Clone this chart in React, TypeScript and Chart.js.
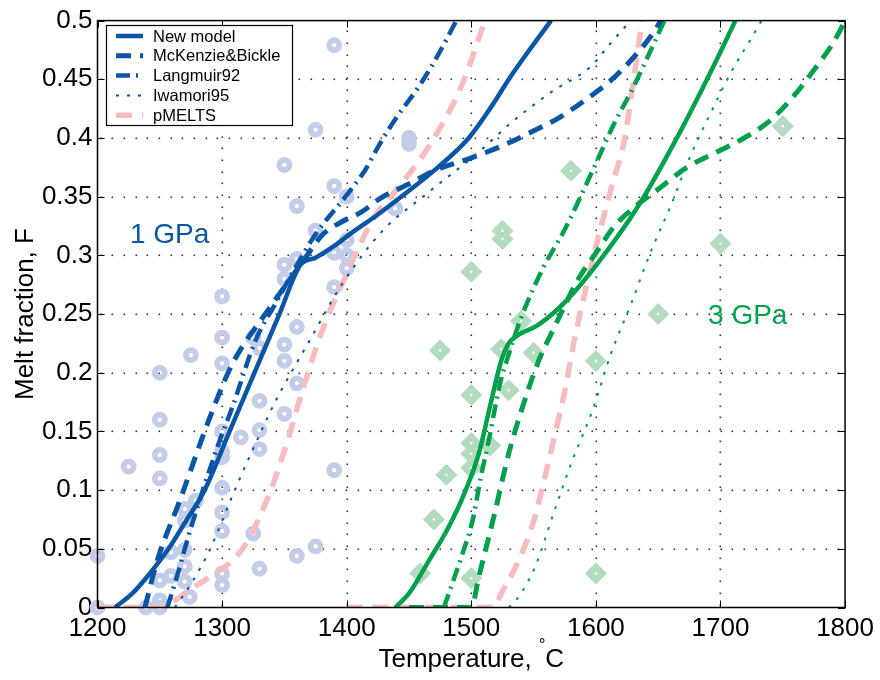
import React, { useEffect, useRef } from 'react';
import { Chart, registerables } from 'chart.js';

Chart.register(...registerables);

// ---------- axes ----------
const xTicks = [1200, 1300, 1400, 1500, 1600, 1700, 1800];
const yTicks = [0, 0.05, 0.1, 0.15, 0.2, 0.25, 0.3, 0.35, 0.4, 0.45, 0.5];
const yTickLabels = ['0', '0.05', '0.1', '0.15', '0.2', '0.25', '0.3', '0.35', '0.4', '0.45', '0.5'];

// ---------- 1 GPa curves ----------
const newModel1T = [1214, 1228, 1242, 1257, 1270, 1286, 1306, 1326, 1346, 1363, 1375, 1390, 1405, 1424, 1445, 1471, 1498, 1515, 1532, 1548, 1564];
const newModel1F = [0, 0.012, 0.029, 0.05, 0.072, 0.1, 0.15, 0.2, 0.25, 0.292, 0.298, 0.308, 0.32, 0.334, 0.351, 0.373, 0.4, 0.425, 0.453, 0.477, 0.5];

const mckenzie1T = [1238, 1248, 1266, 1292, 1308, 1338, 1354, 1365, 1380, 1395, 1412, 1426, 1452, 1470, 1500, 1524, 1548, 1570, 1591, 1612, 1628, 1647, 1652];
const mckenzie1F = [0, 0.04, 0.091, 0.167, 0.207, 0.255, 0.279, 0.295, 0.317, 0.328, 0.337, 0.348, 0.362, 0.372, 0.383, 0.393, 0.405, 0.417, 0.432, 0.449, 0.466, 0.491, 0.5];

const langmuir1T = [1256, 1262, 1275, 1298, 1308, 1327, 1344, 1358, 1375, 1399, 1415, 1426, 1439, 1458, 1474, 1488];
const langmuir1F = [0, 0.02, 0.068, 0.142, 0.17, 0.228, 0.261, 0.288, 0.318, 0.35, 0.373, 0.394, 0.416, 0.444, 0.472, 0.5];

const iwamori1T = [1262, 1275, 1290, 1311, 1330, 1343, 1370, 1396, 1428, 1466, 1506, 1532, 1564, 1596, 1612, 1628];
const iwamori1F = [0, 0.02, 0.049, 0.102, 0.147, 0.176, 0.227, 0.275, 0.32, 0.354, 0.388, 0.413, 0.439, 0.461, 0.481, 0.5];

const pmelts1T = [1200, 1252, 1262, 1274, 1290, 1306, 1319, 1338, 1354, 1362, 1380, 1396, 1423, 1434, 1466, 1492, 1511];
const pmelts1F = [0, 0, 0.006, 0.015, 0.026, 0.038, 0.054, 0.097, 0.147, 0.176, 0.235, 0.275, 0.334, 0.348, 0.393, 0.444, 0.5];

// ---------- 3 GPa curves ----------
const newModel3T = [1439, 1450, 1466, 1480, 1492, 1506, 1516, 1524, 1530, 1536, 1554, 1576, 1602, 1634, 1666, 1692, 1712];
const newModel3F = [0, 0.012, 0.04, 0.065, 0.091, 0.131, 0.176, 0.21, 0.225, 0.231, 0.241, 0.261, 0.294, 0.342, 0.402, 0.456, 0.5];

const mckenzie3T = [1450, 1500, 1506, 1518, 1530, 1540, 1554, 1565, 1574, 1586, 1600, 1615, 1632, 1652, 1673, 1697, 1719, 1740, 1759, 1775, 1791, 1800];
const mckenzie3F = [0, 0, 0.026, 0.077, 0.131, 0.167, 0.21, 0.235, 0.255, 0.28, 0.302, 0.325, 0.342, 0.358, 0.375, 0.388, 0.4, 0.415, 0.436, 0.458, 0.482, 0.5];

const langmuir3T = [1478, 1482, 1492, 1501, 1508, 1514, 1519, 1524, 1529, 1536, 1543, 1558, 1575, 1599, 1615, 1628, 1642, 1655];
const langmuir3F = [0, 0.012, 0.043, 0.074, 0.113, 0.142, 0.17, 0.195, 0.212, 0.235, 0.255, 0.29, 0.322, 0.376, 0.413, 0.439, 0.47, 0.5];

const iwamori3T = [1530, 1535, 1551, 1565, 1581, 1597, 1612, 1628, 1644, 1660, 1676, 1692, 1708, 1727, 1733];
const iwamori3F = [0, 0.005, 0.034, 0.077, 0.125, 0.167, 0.216, 0.258, 0.303, 0.342, 0.385, 0.421, 0.455, 0.489, 0.5];

const pmelts3T = [1400, 1518, 1524, 1538, 1551, 1559, 1567, 1575, 1582, 1587, 1599, 1612, 1623, 1631, 1636, 1637];
const pmelts3F = [0, 0, 0.012, 0.04, 0.077, 0.111, 0.147, 0.184, 0.224, 0.249, 0.303, 0.356, 0.399, 0.455, 0.492, 0.5];

// ---------- experiments ----------
const exp1T = [1200, 1200, 1225, 1239, 1250, 1250, 1250, 1250, 1250, 1250, 1250, 1259, 1259, 1270, 1270, 1270, 1274, 1270, 1270, 1279, 1275,
  1300, 1300, 1300, 1300, 1300, 1300, 1300, 1300, 1300, 1300, 1300, 1315, 1325, 1330, 1330, 1330, 1330, 1325, 1330,
  1350, 1350, 1350, 1350, 1350, 1350, 1360, 1360, 1360, 1360, 1360, 1375, 1375, 1375, 1390, 1390, 1390, 1390, 1390,
  1400, 1400, 1400, 1400, 1439, 1450, 1450];
const exp1F = [0.044, 0, 0.12, 0, 0.2, 0.16, 0.13, 0.11, 0.023, 0.006, 0, 0.027, 0.047, 0.049, 0.035, 0.022, 0.009, 0.084, 0.074, 0.091, 0.215,
  0.265, 0.23, 0.208, 0.15, 0.133, 0.128, 0.102, 0.081, 0.065, 0.029, 0.019, 0.145, 0.23, 0.221, 0.176, 0.151, 0.135, 0.063, 0.033,
  0.377, 0.292, 0.28, 0.224, 0.21, 0.165, 0.342, 0.297, 0.239, 0.191, 0.044, 0.407, 0.321, 0.052, 0.479, 0.359, 0.302, 0.273, 0.117,
  0.35, 0.313, 0.3, 0.289, 0.34, 0.4, 0.395];

const exp3T = [1459, 1470, 1475, 1480, 1500, 1500, 1500, 1500, 1500, 1500, 1515, 1525, 1525, 1524, 1530, 1540, 1550, 1580, 1600, 1600, 1650, 1700, 1750];
const exp3F = [0.029, 0.075, 0.219, 0.113, 0.286, 0.181, 0.14, 0.131, 0.119, 0.025, 0.138, 0.321, 0.314, 0.22, 0.185, 0.244, 0.217, 0.372, 0.21, 0.029, 0.25, 0.31, 0.41];

// ---------- styles ----------
const BLUE = '#0a55a6';
const GREEN = '#00a04c';
const PINK = '#f8bcbc';
const CIRCLE = '#c3cde8';
const DIAMOND = '#b2dbbf';
const FONT = '"Liberation Sans", Arial, Helvetica, sans-serif';

const styles = {
  solid: { width: 4.5, dash: [] as number[] },
  mck: { width: 5, dash: [15, 9] },
  lang: { width: 4.5, dash: [14, 6, 2, 6] },
  iwa: { width: 2, dash: [3, 8] },
  pm: { width: 5.5, dash: [16, 10] },
};

const zip = (xs: number[], ys: number[]) => xs.map((v, i) => ({ x: v, y: ys[i] }));

function lineDs(label: string, xs: number[], ys: number[], color: string, st: { width: number; dash: number[] }) {
  return {
    label,
    data: zip(xs, ys),
    showLine: true,
    borderColor: color,
    backgroundColor: color,
    borderWidth: st.width,
    borderDash: st.dash,
    pointRadius: 0,
    pointHoverRadius: 0,
    cubicInterpolationMode: 'monotone',
    fill: false,
    order: 1,
  };
}

const legendItems = [
  { label: 'New model', color: BLUE, st: styles.solid },
  { label: 'McKenzie&Bickle', color: BLUE, st: styles.mck },
  { label: 'Langmuir92', color: BLUE, st: styles.lang },
  { label: 'Iwamori95', color: BLUE, st: styles.iwa },
  { label: 'pMELTS', color: PINK, st: styles.pm },
];

const GRID_STEP = 11.7;

const decorPlugin = {
  id: 'decor',
  beforeDatasetsDraw(chart: any) {
    const { ctx, chartArea: a, scales } = chart;
    const x = scales.x;
    const y = scales.y;
    ctx.save();
    ctx.fillStyle = '#333';
    for (const t of xTicks.slice(1, -1)) {
      const px = Math.round(x.getPixelForValue(t));
      for (let py = a.bottom - 3; py > a.top + 2; py -= GRID_STEP) {
        ctx.fillRect(px - 0.5, Math.round(py) - 0.5, 1.6, 1.6);
      }
    }
    for (const t of yTicks.slice(1, -1)) {
      const py = Math.round(y.getPixelForValue(t));
      for (let px = a.left + 3; px < a.right - 2; px += GRID_STEP) {
        ctx.fillRect(Math.round(px) - 0.5, py - 0.5, 1.6, 1.6);
      }
    }
    ctx.restore();
  },
  afterDraw(chart: any) {
    const { ctx, chartArea: a, scales } = chart;
    const x = scales.x;
    const y = scales.y;
    ctx.save();
    // ticks (inward, all four sides)
    ctx.strokeStyle = '#000';
    ctx.lineWidth = 1;
    ctx.setLineDash([]);
    const L = 7;
    for (const t of xTicks) {
      const px = Math.round(x.getPixelForValue(t)) + 0.5;
      ctx.beginPath();
      ctx.moveTo(px, a.bottom); ctx.lineTo(px, a.bottom - L);
      ctx.moveTo(px, a.top); ctx.lineTo(px, a.top + L);
      ctx.stroke();
    }
    for (const t of yTicks) {
      const py = Math.round(y.getPixelForValue(t)) + 0.5;
      ctx.beginPath();
      ctx.moveTo(a.left, py); ctx.lineTo(a.left + L, py);
      ctx.moveTo(a.right, py); ctx.lineTo(a.right - L, py);
      ctx.stroke();
    }
    // frame
    ctx.lineWidth = 1.5;
    ctx.strokeRect(a.left, a.top, a.right - a.left, a.bottom - a.top);

    // annotations
    ctx.font = `28px ${FONT}`;
    ctx.textBaseline = 'middle';
    ctx.textAlign = 'left';
    ctx.fillStyle = BLUE;
    ctx.fillText('1 GPa', x.getPixelForValue(1226), y.getPixelForValue(0.317));
    ctx.fillStyle = GREEN;
    ctx.fillText('3 GPa', x.getPixelForValue(1690), y.getPixelForValue(0.248));

    // legend
    const lx = 106, ly = 25, lw = 186, lh = 100;
    ctx.fillStyle = '#fff';
    ctx.fillRect(lx, ly, lw, lh);
    ctx.strokeStyle = '#000';
    ctx.lineWidth = 1.2;
    ctx.strokeRect(lx + 0.5, ly + 0.5, lw, lh);
    ctx.font = `16.5px ${FONT}`;
    legendItems.forEach((it, i) => {
      const yy = ly + 11 + i * 19.8;
      ctx.beginPath();
      ctx.strokeStyle = it.color;
      ctx.lineWidth = it.st.width;
      ctx.setLineDash(it.st.dash);
      ctx.moveTo(116, yy);
      ctx.lineTo(143, yy);
      ctx.stroke();
      ctx.setLineDash([]);
      ctx.fillStyle = '#000';
      ctx.textBaseline = 'middle';
      ctx.fillText(it.label, 153, yy + 1);
    });

    // axis titles
    ctx.fillStyle = '#000';
    ctx.font = `26px ${FONT}`;
    ctx.textAlign = 'center';
    ctx.textBaseline = 'middle';
    ctx.save();
    ctx.translate(26, (a.top + a.bottom) / 2);
    ctx.rotate(-Math.PI / 2);
    ctx.fillText('Melt fraction, F', 0, 0);
    ctx.restore();

    const t1 = 'Temperature, ';
    const deg = '°';
    const t2 = 'C';
    ctx.font = `26px ${FONT}`;
    const w1 = ctx.measureText(t1).width;
    const w3 = ctx.measureText(t2).width;
    ctx.font = `16px ${FONT}`;
    const w2 = ctx.measureText(deg).width;
    const total = w1 + w2 + w3;
    const cx = (a.left + a.right) / 2;
    let sx = cx - total / 2;
    const by = 667;
    ctx.textAlign = 'left';
    ctx.textBaseline = 'alphabetic';
    ctx.font = `26px ${FONT}`;
    ctx.fillText(t1, sx, by);
    sx += w1;
    ctx.font = `16px ${FONT}`;
    ctx.fillText(deg, sx, by - 17);
    sx += w2;
    ctx.font = `26px ${FONT}`;
    ctx.fillText(t2, sx, by);
    ctx.restore();
  },
};

export default function App() {
  const ref = useRef<HTMLCanvasElement | null>(null);
  useEffect(() => {
    document.body.style.margin = '0';
    const canvas = ref.current;
    if (!canvas) return;
    const datasets: any[] = [
      lineDs('New model', newModel1T, newModel1F, BLUE, styles.solid),
      lineDs('McKenzie&Bickle', mckenzie1T, mckenzie1F, BLUE, styles.mck),
      lineDs('Langmuir92', langmuir1T, langmuir1F, BLUE, styles.lang),
      lineDs('Iwamori95', iwamori1T, iwamori1F, BLUE, styles.iwa),
      lineDs('pMELTS', pmelts1T, pmelts1F, PINK, styles.pm),
      lineDs('New model 3GPa', newModel3T, newModel3F, GREEN, styles.solid),
      lineDs('McKenzie&Bickle 3GPa', mckenzie3T, mckenzie3F, GREEN, styles.mck),
      lineDs('Langmuir92 3GPa', langmuir3T, langmuir3F, GREEN, styles.lang),
      lineDs('Iwamori95 3GPa', iwamori3T, iwamori3F, GREEN, styles.iwa),
      lineDs('pMELTS 3GPa', pmelts3T, pmelts3F, PINK, styles.pm),
      {
        label: 'exp 1 GPa',
        data: zip(exp1T, exp1F),
        pointStyle: 'circle',
        pointRadius: 5,
        pointBorderWidth: 5.8,
        pointBackgroundColor: 'rgba(0,0,0,0)',
        pointBorderColor: CIRCLE,
        showLine: false,
        clip: false,
        order: 3,
      },
      {
        label: 'exp 3 GPa',
        data: zip(exp3T, exp3F),
        pointStyle: 'rectRot',
        pointRadius: 10.5,
        pointBorderWidth: 1,
        pointBackgroundColor: DIAMOND,
        pointBorderColor: DIAMOND,
        showLine: false,
        clip: false,
        order: 3,
      },
      {
        label: 'exp 3 GPa centre',
        data: zip(exp3T, exp3F),
        pointStyle: 'circle',
        pointRadius: 1.2,
        pointBorderWidth: 0,
        pointBackgroundColor: '#ffffff',
        showLine: false,
        clip: false,
        order: 2,
      },
    ];
    const chart = new Chart(canvas, {
      type: 'scatter',
      data: { datasets },
      options: {
        animation: false,
        responsive: false,
        devicePixelRatio: 1,
        events: [],
        layout: { padding: { left: 0, right: 32, top: 17.5, bottom: 0 } },
        plugins: { legend: { display: false }, tooltip: { enabled: false }, title: { display: false } },
        scales: {
          x: {
            type: 'linear',
            min: 1200,
            max: 1800,
            afterBuildTicks: (s: any) => { s.ticks = xTicks.map((v) => ({ value: v })); },
            afterFit: (s: any) => { s.height = 72.5; },
            grid: { display: false, drawTicks: false },
            border: { display: false },
            ticks: { color: '#000', font: { family: FONT, size: 26 }, padding: 6, maxRotation: 0, callback: (v: any) => String(v) },
          },
          y: {
            type: 'linear',
            min: 0,
            max: 0.5,
            afterBuildTicks: (s: any) => { s.ticks = yTicks.map((v) => ({ value: v })); },
            afterFit: (s: any) => { s.width = 97.5; },
            grid: { display: false, drawTicks: false },
            border: { display: false },
            ticks: { color: '#000', font: { family: FONT, size: 26 }, padding: 5, callback: (_v: any, i: number) => yTickLabels[i] },
          },
        },
      },
      plugins: [decorPlugin],
    });
    return () => chart.destroy();
  }, []);
  return <canvas ref={ref} width={880} height={680} style={{ display: 'block' }} />;
}
